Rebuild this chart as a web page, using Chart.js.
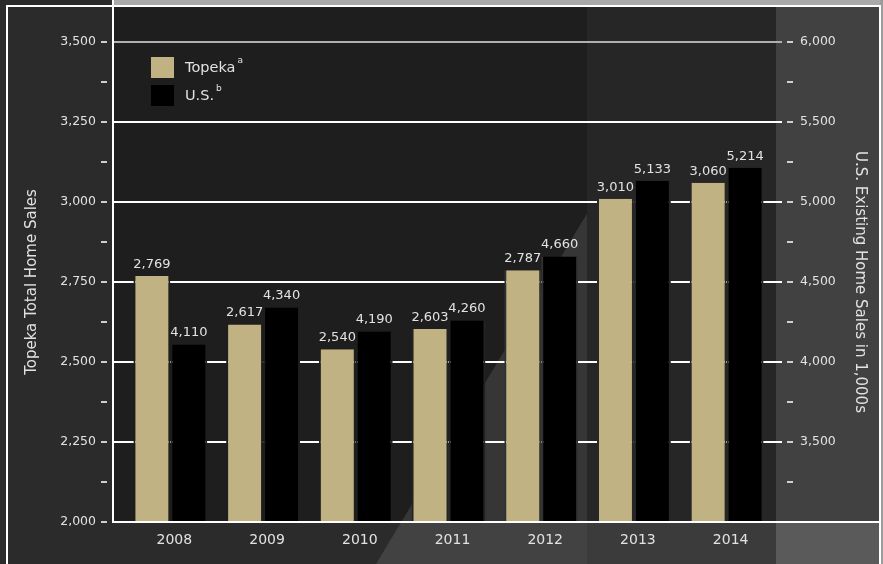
<!DOCTYPE html>
<html>
<head>
<meta charset="utf-8">
<script src="https://cdn.jsdelivr.net/npm/chart.js@4.4.1/dist/chart.umd.min.js"></script>
<style>
html, body { margin: 0; padding: 0; background: #2b2b2b; }
</style>
</head>
<body>
<canvas id="myChart" width="883" height="564"></canvas>
<script>
var years = ['2008', '2009', '2010', '2011', '2012', '2013', '2014'];
var topekaSales = [2769, 2617, 2540, 2603, 2787, 3010, 3060];
var usSales = [4110, 4340, 4190, 4260, 4660, 5133, 5214];
var leftAxis = { min: 2000, max: 3500, step: 125, labelEvery: 250 };
var rightAxis = { min: 3000, max: 6000, step: 250, labelEvery: 500 };

var textColor = '#e2e2e2';
var fontName = '"DejaVu Sans", sans-serif';
// colour behind the bars, used as a thin edge so grid lines stop at the bars
var gapColors = ['#1e1e1e', '#1e1e1e', '#1e1e1e', '#232323', '#323232', '#262626', '#262626'];

function fmt(v) {
    return v.toLocaleString('en-US');
}

var backdrop = {
    id: 'backdrop',
    beforeDraw: function (chart) {
        var c = chart.ctx;
        c.save();
        c.fillStyle = '#2b2b2b';
        c.fillRect(0, 0, 883, 564);
        // top strip above the frame
        c.fillStyle = '#a9a9a9';
        c.fillRect(113, 0, 770, 5);
        c.fillStyle = '#9c9c9c';
        c.fillRect(880, 0, 3, 564);
        // plot panel
        c.fillStyle = '#1e1e1e';
        c.fillRect(113, 6, 474, 516);
        // light diagonal
        c.fillStyle = 'rgba(255,255,255,0.11)';
        c.beginPath();
        c.moveTo(376, 564);
        c.lineTo(588, 212);
        c.lineTo(588, 564);
        c.closePath();
        c.fill();
        // last two years panel
        c.fillStyle = '#262626';
        c.fillRect(587, 6, 189, 516);
        c.fillStyle = '#3b3b3b';
        c.fillRect(587, 522, 189, 42);
        // right axis strip
        c.fillStyle = '#414141';
        c.fillRect(776, 6, 104, 516);
        c.fillStyle = '#5a5a5a';
        c.fillRect(776, 522, 104, 42);
        c.restore();
    }
};

var decorations = {
    id: 'decorations',
    afterDatasetsDraw: function (chart) {
        var c = chart.ctx;
        c.save();
        c.fillStyle = textColor;
        c.font = '13px ' + fontName;
        c.textAlign = 'center';
        c.textBaseline = 'bottom';
        chart.data.datasets.forEach(function (ds, i) {
            var meta = chart.getDatasetMeta(i);
            meta.data.forEach(function (bar, j) {
                c.fillText(fmt(ds.data[j]), bar.x, bar.y - 5);
            });
        });
        c.restore();
    },
    afterDraw: function (chart) {
        var c = chart.ctx;
        var yl = chart.scales.y;
        var yr = chart.scales.y1;
        c.save();

        // small dashes next to the tick labels
        c.strokeStyle = '#d0d0d0';
        c.lineWidth = 2;
        yl.ticks.forEach(function (t) {
            var py = Math.round(yl.getPixelForValue(t.value));
            c.beginPath();
            c.moveTo(101, py);
            c.lineTo(107, py);
            c.stroke();
        });
        yr.ticks.forEach(function (t) {
            if (t.value === rightAxis.min) return;
            var py = Math.round(yr.getPixelForValue(t.value));
            c.beginPath();
            c.moveTo(787, py);
            c.lineTo(793, py);
            c.stroke();
        });

        // frame lines
        c.strokeStyle = '#ffffff';
        c.lineWidth = 2;
        c.beginPath();
        c.moveTo(113, 0);
        c.lineTo(113, 523);
        c.moveTo(112, 522);
        c.lineTo(880, 522);
        c.moveTo(7, 564);
        c.lineTo(7, 6);
        c.lineTo(880, 6);
        c.lineTo(880, 564);
        c.stroke();

        // legend
        var items = [
            { ds: chart.data.datasets[0], sup: 'a', y: 57 },
            { ds: chart.data.datasets[1], sup: 'b', y: 85 }
        ];
        items.forEach(function (it) {
            c.fillStyle = it.ds.backgroundColor;
            c.fillRect(151, it.y, 23, 21);
            c.fillStyle = textColor;
            c.font = '14.5px ' + fontName;
            c.textAlign = 'left';
            c.textBaseline = 'middle';
            c.fillText(it.ds.label, 185, it.y + 11);
            var w = c.measureText(it.ds.label).width;
            c.font = '9px ' + fontName;
            c.fillText(it.sup, 185 + w + 2, it.y + 4);
        });
        c.restore();
    }
};

var ctx = document.getElementById('myChart').getContext('2d');

var myChart = new Chart(ctx, {
    type: 'bar',
    data: {
        labels: years,
        datasets: [{
            label: 'Topeka',
            data: topekaSales,
            yAxisID: 'y',
            backgroundColor: '#c0b282',
            borderColor: gapColors,
            borderWidth: { left: 2, right: 2, top: 0, bottom: 0 },
            borderSkipped: false
        }, {
            label: 'U.S.',
            data: usSales,
            yAxisID: 'y1',
            backgroundColor: '#000000',
            borderColor: gapColors,
            borderWidth: { left: 2, right: 2, top: 0, bottom: 0 },
            borderSkipped: false
        }]
    },
    options: {
        responsive: false,
        animation: false,
        devicePixelRatio: 1,
        categoryPercentage: 0.797,
        barPercentage: 1,
        layout: { padding: { top: 42, left: 0, right: 0, bottom: 0 } },
        plugins: {
            legend: { display: false },
            tooltip: { enabled: false }
        },
        scales: {
            x: {
                grid: { display: false },
                border: { display: false },
                ticks: {
                    color: textColor,
                    font: { family: fontName, size: 14 },
                    padding: 2,
                    labelOffset: 4,
                    maxRotation: 0
                },
                afterFit: function (s) { s.height = 42; }
            },
            y: {
                position: 'left',
                min: leftAxis.min,
                max: leftAxis.max,
                border: { display: false },
                grid: {
                    lineWidth: 2,
                    tickLength: 11,
                    color: function (g) {
                        var v = g.tick ? g.tick.value : 0;
                        if (v === leftAxis.min || v % leftAxis.labelEvery !== 0) return 'rgba(0,0,0,0)';
                        return v === leftAxis.max ? '#b0b0b0' : '#ffffff';
                    }
                },
                ticks: {
                    stepSize: leftAxis.step,
                    autoSkip: false,
                    padding: 17,
                    color: textColor,
                    font: { family: fontName, size: 12.5 },
                    callback: function (v) {
                        return v % leftAxis.labelEvery === 0 ? fmt(v) : '';
                    }
                },
                title: {
                    display: true,
                    text: 'Topeka Total Home Sales',
                    color: textColor,
                    font: { family: fontName, size: 15 },
                    padding: { top: 23, bottom: 0 }
                },
                afterFit: function (s) { s.width = 124; }
            },
            y1: {
                position: 'right',
                min: rightAxis.min,
                max: rightAxis.max,
                border: { display: false },
                grid: {
                    drawOnChartArea: false,
                    lineWidth: 2,
                    tickLength: 9,
                    color: function (g) {
                        var v = g.tick ? g.tick.value : 0;
                        if (v === rightAxis.min || v % rightAxis.labelEvery !== 0) return 'rgba(0,0,0,0)';
                        return v === rightAxis.max ? '#b0b0b0' : '#ffffff';
                    }
                },
                ticks: {
                    stepSize: rightAxis.step,
                    autoSkip: false,
                    padding: 18,
                    color: textColor,
                    font: { family: fontName, size: 12.5 },
                    callback: function (v) {
                        return (v % rightAxis.labelEvery === 0 && v !== rightAxis.min) ? fmt(v) : '';
                    }
                },
                title: {
                    display: true,
                    text: 'U.S. Existing Home Sales in 1,000s',
                    color: textColor,
                    font: { family: fontName, size: 15 },
                    padding: { top: 14, bottom: 0 }
                },
                afterFit: function (s) { s.width = 110; }
            }
        }
    },
    plugins: [backdrop, decorations]
});
</script>
</body>
</html>
